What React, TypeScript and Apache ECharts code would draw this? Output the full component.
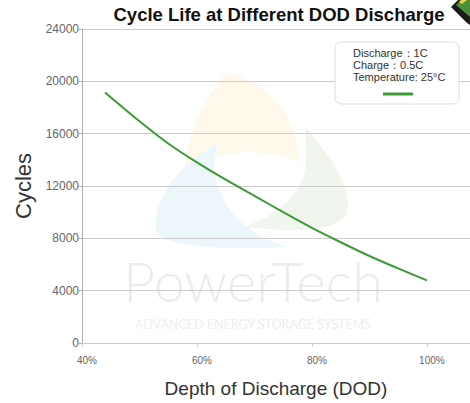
import React, { useEffect, useRef } from 'react';
import * as echarts from 'echarts';

const titleText = 'Cycle Life at Different DOD Discharge';
const xAxisName = 'Depth of Discharge (DOD)';
const yAxisName = 'Cycles';
const dodValues = [44, 50, 55, 60, 65, 70, 75, 80, 85, 90, 95, 100];
const cycleValues = [19150, 16950, 15250, 13800, 12480, 11250, 10000, 8800, 7700, 6650, 5700, 4790];
const legendLines = ['Discharge：1C', 'Charge：0.5C', 'Temperature: 25°C'];
const watermarkName = 'PowerTech';
const watermarkSub = 'ADVANCED ENERGY STORAGE SYSTEMS';

const yellowBlade = 'M228,72 C205,95 188,135 184,172 C212,150 262,146 300,162 C298,120 272,84 228,72 Z';
const blueBlade = 'M218,143 C176,165 150,205 157,232 C164,248 232,250 288,247 C250,236 226,214 216,182 C213,168 214,155 218,143 Z';
const greenBlade = 'M305,127 C336,160 354,196 346,215 C336,232 292,232 244,227 C282,214 306,190 306,160 C306,148 306,138 305,127 Z';

echarts.graphic.registerShape('wmYellow', echarts.graphic.extendPath(yellowBlade, {}));
echarts.graphic.registerShape('wmBlue', echarts.graphic.extendPath(blueBlade, {}));
echarts.graphic.registerShape('wmGreen', echarts.graphic.extendPath(greenBlade, {}));

const FONT = '"Liberation Sans", Arial, sans-serif';

export default function App() {
  const ref = useRef<HTMLDivElement>(null);
  useEffect(() => {
    if (!ref.current) return;
    const chart = echarts.init(ref.current, undefined, { renderer: 'svg' });
    const data = dodValues.map((d, i) => [d, cycleValues[i]]);
    chart.setOption({
      animation: false,
      backgroundColor: '#ffffff',
      textStyle: { fontFamily: FONT },
      grid: { left: 82, top: 29, right: -8, bottom: 60, containLabel: false },
      xAxis: {
        type: 'value',
        min: 40,
        max: 107.5,
        interval: 20,
        name: xAxisName,
        nameLocation: 'middle',
        nameGap: 36,
        nameTextStyle: { fontSize: 19, color: '#333', fontFamily: FONT },
        axisLine: { show: true, lineStyle: { color: '#cccccc' } },
        axisTick: { show: true, length: 4, lineStyle: { color: '#cccccc' } },
        axisLabel: {
          formatter: '{value}%',
          fontSize: 10,
          color: '#666',
          margin: 12,
          showMaxLabel: false,
          padding: [0, 0, 0, 10],
        },
        splitLine: { show: false },
      },
      yAxis: {
        type: 'value',
        min: 0,
        max: 24000,
        interval: 4000,
        name: yAxisName,
        nameLocation: 'middle',
        nameGap: 37,
        nameTextStyle: { fontSize: 22, color: '#333', fontFamily: FONT },
        axisLine: { show: true, lineStyle: { color: '#b0b0b0' } },
        axisTick: { show: true, length: 3, lineStyle: { color: '#b0b0b0' } },
        axisLabel: { fontSize: 12, color: '#666', margin: 3, formatter: (v: number) => String(v) },
        splitLine: { show: true, lineStyle: { color: '#cccccc' } },
      },
      series: [
        {
          type: 'line',
          data,
          smooth: 0.3,
          showSymbol: false,
          lineStyle: { color: '#3c9b36', width: 2 },
          z: 5,
        },
      ],
      graphic: [
        { type: 'wmYellow', x: 0, y: 0, z: -10, silent: true, style: { fill: '#fff9ec' } },
        { type: 'wmBlue', x: 0, y: 0, z: -10, silent: true, style: { fill: '#ecf6fb' } },
        { type: 'wmGreen', x: 0, y: 0, z: -10, silent: true, style: { fill: '#f0f6ed' } },
        {
          type: 'text', x: 253, y: 280, z: -10, silent: true,
          style: { text: watermarkName, fontSize: 56, fontFamily: 'Lato, sans-serif', fontWeight: 300, fill: '#ececec', textAlign: 'center', textVerticalAlign: 'middle' },
        },
        {
          type: 'text', x: 253, y: 324, z: -10, silent: true,
          style: { text: watermarkSub, fontSize: 12.5, fontFamily: 'Lato, sans-serif', fill: '#eeeeee', textAlign: 'center', textVerticalAlign: 'middle' },
        },
        {
          type: 'text', x: 279, y: 14, z: 50,
          style: { text: titleText, fontSize: 18.5, fontWeight: 'bold', fontFamily: FONT, fill: '#111', textAlign: 'center', textVerticalAlign: 'middle' },
        },
        { type: 'polygon', z: 50, shape: { points: [[451, 7], [458, 0], [470, 0], [470, 25], [467, 23]] }, style: { fill: '#1a1a1a' } },
        { type: 'polygon', z: 51, shape: { points: [[456, 5], [461, 0], [470, 0], [470, 17]] }, style: { fill: '#4a8f3a' } },
        { type: 'polygon', z: 52, shape: { points: [[459, 2], [461, 0], [467, 0], [462, 4]] }, style: { fill: '#e8d23a' } },
        {
          type: 'rect', z: 100,
          shape: { x: 335, y: 42, width: 124, height: 62, r: 6 },
          style: { fill: '#ffffff', stroke: '#dddddd', lineWidth: 1 },
        },
        ...legendLines.map((t, i) => ({
          type: 'text', x: 353, y: 53 + i * 12, z: 101,
          style: { text: t, fontSize: 11, fontFamily: FONT, fill: '#333', textVerticalAlign: 'middle' },
        })),
        { type: 'line', z: 101, shape: { x1: 383, y1: 94, x2: 413, y2: 94 }, style: { stroke: '#3c9b36', lineWidth: 3 } },
      ],
    });
    return () => chart.dispose();
  }, []);
  return <div ref={ref} style={{ position: 'absolute', left: 0, top: 0, width: 470, height: 403 }} />;
}
